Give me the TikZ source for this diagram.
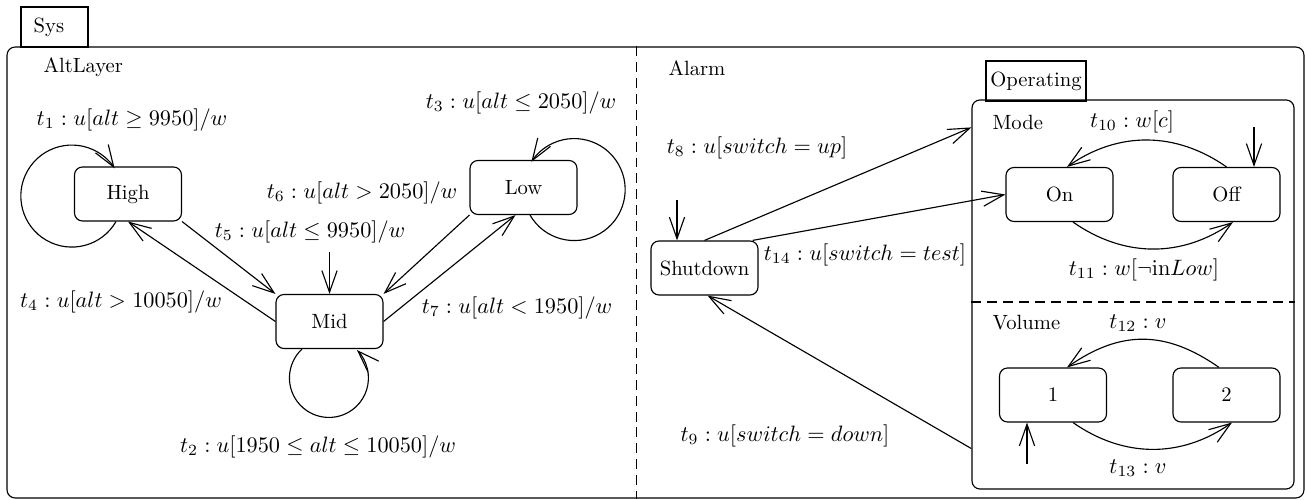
\documentclass[tikz,border=0pt]{standalone}
\usetikzlibrary{arrows.meta,calc}
\begin{document}
\begin{tikzpicture}[x=0.485pt,y=0.485pt,line width=0.55pt,
  every node/.style={inner sep=0pt},
  state/.style={draw,rounded corners=3.9pt,minimum width=51.9pt,minimum height=26.2pt},
  tab/.style={draw,minimum height=19.4pt},
  arr/.style={-{Straight Barb[length=10.5pt,width=7.4pt]}},
  lbl/.style={scale=1.08,transform shape},
  sep/.style={dash pattern=on 4.8pt off 2.9pt}]
\useasboundingbox (0,0) rectangle (1305,500);

% containers
\node[tab,minimum width=32.5pt,text width=20.2pt,align=left,inner xsep=6.15pt] (systab) at (54.5,473) {Sys};
\node[draw,rounded corners=3.9pt,minimum width=629pt,minimum height=218.7pt] (sys) at (655.5,227.5) {};
\draw[sep] ($(sys.north west)+(630,0)$) -- ($(sys.south west)+(630,0)$);
\node[anchor=west] (altlayer) at (43,433) {AltLayer};
\node[anchor=west] (alarm) at (668,432) {Alarm};

\node[draw,rounded corners=3.9pt,minimum width=156.2pt,minimum height=188.7pt] (op) at (1133,205.5) {};
\node[tab,minimum width=48.5pt] (optab) at (1036,419) {Operating};
\draw[sep] ($(op.west)+(0,-7.5)$) -- ($(op.east)+(0,-7.5)$);
\node[anchor=west] (mode) at (992,378) {Mode};
\node[anchor=west] (volume) at (992,177) {Volume};

% states
\node[state] (high) at (128,306) {High};
\node[state] (low) at (523.5,312.5) {Low};
\node[state] (mid) at (329.5,178.5) {Mid};
\node[state] (shut) at (704.5,232) {Shutdown};
\node[state] (on) at (1059.5,305.5) {On};
\node[state] (off) at (1226.5,305.5) {Off};
\node[state] (one) at (1053,105) {1};
\node[state] (two) at (1226.5,105) {2};

% AltLayer transitions
\draw[arr] ($(high.south)+(-12,0)$) arc[start angle=-30,end angle=-327,radius=51];
\draw[arr] ($(mid.south)+(-27.5,0)$) arc[start angle=133,end angle=405,radius=39.5];
\draw[arr] ($(low.south)+(6.5,0)$) arc[start angle=210,end angle=507,radius=51];
\draw[arr] (mid.west) -- (high.south);
\draw[arr] (high.south east) -- (mid.north west);
\draw[arr] (low.south west) -- (mid.north east);
\draw[arr] (mid.east) -- ($(low.south)+(-8,0)$);
\draw[arr] ($(mid.north)+(0,42)$) -- (mid.north);

\node[lbl] (t1) at (132,380) {$t_1 : u[alt \geq 9950]/w$};
\node[lbl] (t3) at (521,397) {$t_3 : u[alt \leq 2050]/w$};
\node[lbl] (t6) at (362,307) {$t_6 : u[alt > 2050]/w$};
\node[lbl] (t5) at (310,268) {$t_5 : u[alt \leq 9950]/w$};
\node[lbl] (t4) at (121,198) {$t_4 : u[alt > 10050]/w$};
\node[lbl] (t7) at (517,192) {$t_7 : u[alt < 1950]/w$};
\node[lbl] (t2) at (318,53) {$t_2 : u[1950 \leq alt \leq 10050]/w$};

% Alarm transitions
\draw[arr] ($(shut.north)+(-27.5,40)$) -- ($(shut.north)+(-27.5,0)$);
\draw[arr] (shut.north) -- ($(op.north west)+(0,-28)$);
\draw[arr] ($(shut.north east)+(-6,0)$) -- (on.west);
\draw[arr] ($(op.south west)+(0,41)$) -- ($(shut.south)+(3,0)$);
\draw[arr] ($(off.north)+(27.5,40)$) -- ($(off.north)+(27.5,0)$);
\draw[arr] (off.north) to[out=145,in=35] ($(on.north)+(7.5,0)$);
\draw[arr] ($(on.south)+(13.5,0)$) to[out=-35,in=-145] ($(off.south)+(6.5,0)$);
\draw[arr] ($(one.south)+(-26,-41)$) -- ($(one.south)+(-26,0)$);
\draw[arr] ($(two.north)+(-7.5,0)$) to[out=145,in=35,looseness=1.1] ($(one.north)+(14,0)$);
\draw[arr] ($(one.south)+(20,0)$) to[out=-35,in=-145] ($(two.south)+(5.5,0)$);

\node[lbl] (t8) at (757,352) {$t_8 : u[switch = up]$};
\node[lbl] (t14) at (865,245) {$t_{14} : u[switch = test]$};
\node[lbl] (t9) at (785,64) {$t_9 : u[switch = down]$};
\node[lbl] (t10) at (1132,378) {$t_{10} : w[c]$};
\node[lbl] (t11) at (1144,230) {$t_{11} : w[\neg \mathrm{in} Low]$};
\node[lbl] (t12) at (1138,177) {$t_{12} : v$};
\node[lbl] (t13) at (1138,32) {$t_{13} : v$};
\end{tikzpicture}
\end{document}
